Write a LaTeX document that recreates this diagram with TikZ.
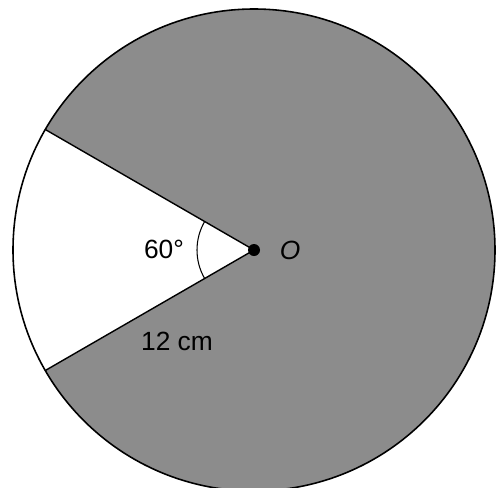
\documentclass[tikz,border=0pt]{standalone}
\usepackage{fontspec}
\setmainfont{Liberation Sans}
\usepackage{xcolor}
\usetikzlibrary{angles, quotes, calc}
\definecolor{diskgray}{RGB}{140,140,140}

\begin{document}
\begin{tikzpicture}[x=0.02cm, y=-0.02cm, font=\fontsize{15}{17}\selectfont]
			\useasboundingbox (0,0) rectangle (497,487);
   			\coordinate (O) at (254,250);
   			\coordinate (A) at ($(O)+(150:241)$);
   			\coordinate (B) at ($(O)+(210:241)$);
   			
   			\fill[diskgray] (O) circle (241);
   			\fill[white] (O) -- (A) arc[start angle=150, end angle=210, radius=241] -- cycle;
   			\draw[line width=0.9pt] (O) circle (241);
   			\draw[line width=0.8pt] (O) -- (A);
   			\draw[line width=0.8pt] (O) -- (B);
   			\draw[line width=0.6pt] (O) ++(150:57) arc[start angle=150, end angle=210, radius=57];
   			\fill (O) circle (6);
   			
   			\foreach \x/\y/\name/\label in {
   				164/249/deg/{60°},
   				290/250/ctr/{\textit{O}},
   				177/341/len/{12 cm}
   			}{
   				\node (\name) at (\x,\y) {\label};
   			}
   		\end{tikzpicture}
\end{document}
